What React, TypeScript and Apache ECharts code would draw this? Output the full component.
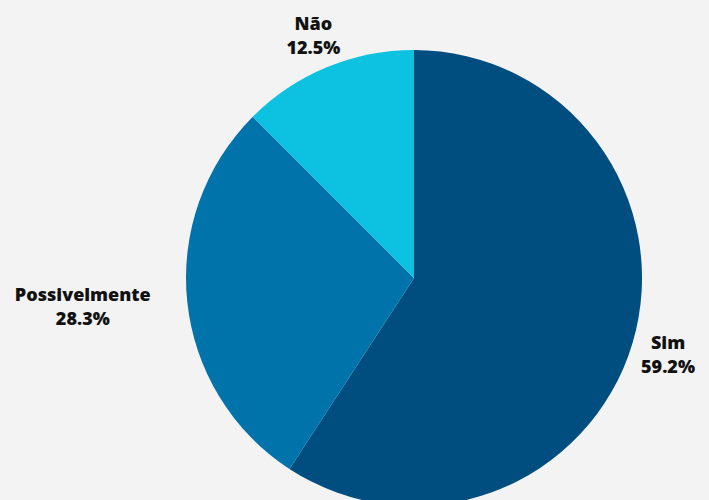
import React, { useEffect, useRef } from "react";
import * as echarts from "echarts";

const categories = ["Sim", "Possivelmente", "Não"];
const values = [59.2, 28.3, 12.5];
const colors = ["#004d80", "#0073aa", "#0cc2e0"];
// label distance from pie center (px) per slice, and alignment
const labelRadius = [265, 333, 263];
const labelYShift = [0, -6, 0];

export default function App() {
  const ref = useRef<HTMLDivElement>(null);
  useEffect(() => {
    document.body.style.margin = "0";
    const chart = echarts.init(ref.current!, null, { renderer: "svg" });
    const cx = 414;
    const cy = 278;
    const total = values.reduce((a, b) => a + b, 0);
    const mids: number[] = [];
    let acc = 0;
    values.forEach((v) => {
      mids.push(((acc + v / 2) / total) * Math.PI * 2);
      acc += v;
    });
    chart.setOption({
      animation: false,
      backgroundColor: "#f3f3f3",
      series: [
        {
          type: "pie",
          center: [cx, cy],
          radius: 228,
          startAngle: 90,
          clockwise: true,
          avoidLabelOverlap: false,
          data: categories.map((c, i) => ({
            name: c,
            value: values[i],
            itemStyle: { color: colors[i] },
          })),
          label: {
            show: true,
            position: "outside",
            formatter: (p: any) => `{a|${p.name}}\n{a|${p.value.toFixed(1)}%}`,
            rich: {
              a: {
                fontFamily: "Open Sans",
                fontWeight: 800,
                fontSize: 18,
                color: "#111111",
                align: "center",
                lineHeight: 24,
              },
            },
          },
          labelLine: { show: false },
          labelLayout: (params: any) => {
            const i = params.dataIndex;
            const a = mids[i];
            return {
              x: cx + Math.sin(a) * labelRadius[i],
              y: cy - Math.cos(a) * labelRadius[i] + labelYShift[i],
              align: "center",
              verticalAlign: "middle",
            };
          },
        },
      ],
    });
    return () => chart.dispose();
  }, []);
  return (
    <div
      ref={ref}
      style={{ position: "fixed", left: 0, top: 0, width: 709, height: 500 }}
    />
  );
}
